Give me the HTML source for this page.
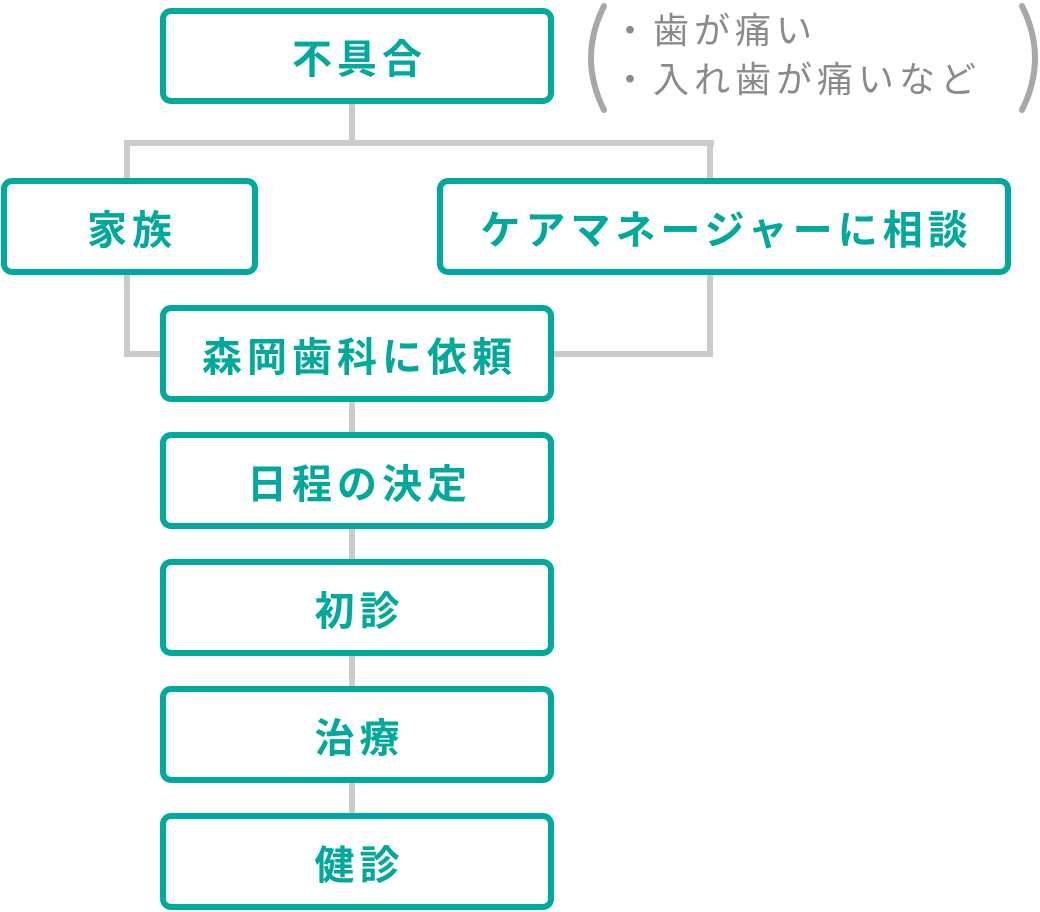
<!DOCTYPE html>
<html><head><meta charset="utf-8"><style>
body{margin:0;width:1040px;height:912px;background:#fff;position:relative;overflow:hidden;font-family:"Liberation Sans","Noto Sans CJK JP",sans-serif;}
.b{position:absolute;box-sizing:border-box;border:6px solid #00a99b;border-radius:11px;background:#fff;color:#00a99b;font-size:40px;font-weight:700;display:flex;align-items:center;justify-content:center;letter-spacing:5px;padding-left:5px;}
.l{position:absolute;background:#cbcbcb;}
.t{position:absolute;color:#8a8a8a;font-size:36px;letter-spacing:5px;white-space:nowrap;line-height:40px;}
</style></head><body>
<div class="l" style="left:349px;top:100px;width:6px;height:46px"></div>
<div class="l" style="left:124px;top:140px;width:590px;height:6px"></div>
<div class="l" style="left:124px;top:140px;width:6px;height:40px"></div>
<div class="l" style="left:707px;top:140px;width:6px;height:40px"></div>
<div class="l" style="left:124px;top:272px;width:6px;height:85px"></div>
<div class="l" style="left:124px;top:351px;width:40px;height:6px"></div>
<div class="l" style="left:707px;top:272px;width:6px;height:85px"></div>
<div class="l" style="left:550px;top:351px;width:163px;height:6px"></div>
<div class="l" style="left:349px;top:398px;width:6px;height:420px"></div>

<div class="b" style="left:160px;top:8px;width:394px;height:96px">不具合</div>
<div class="b" style="left:1px;top:178px;width:257px;height:97px">家族</div>
<div class="b" style="left:437px;top:178px;width:574px;height:97px">ケアマネージャーに相談</div>
<div class="b" style="left:160px;top:305px;width:394px;height:97px">森岡歯科に依頼</div>
<div class="b" style="left:160px;top:432px;width:394px;height:97px">日程の決定</div>
<div class="b" style="left:160px;top:559px;width:394px;height:97px">初診</div>
<div class="b" style="left:160px;top:686px;width:394px;height:97px">治療</div>
<div class="b" style="left:160px;top:813px;width:394px;height:97px">健診</div>

<svg style="position:absolute;left:0;top:0" width="1040" height="912">
<path d="M604 6 Q578 58 604 110" stroke="#a8a8a8" stroke-width="6" fill="none" stroke-linecap="round"/>
<path d="M1022 6 Q1048 58 1022 110" stroke="#a8a8a8" stroke-width="6" fill="none" stroke-linecap="round"/>
</svg>
<div class="t" style="left:612px;top:11px">・歯が痛い</div>
<div class="t" style="left:612px;top:60px">・入れ歯が痛いなど</div>
</body></html>
